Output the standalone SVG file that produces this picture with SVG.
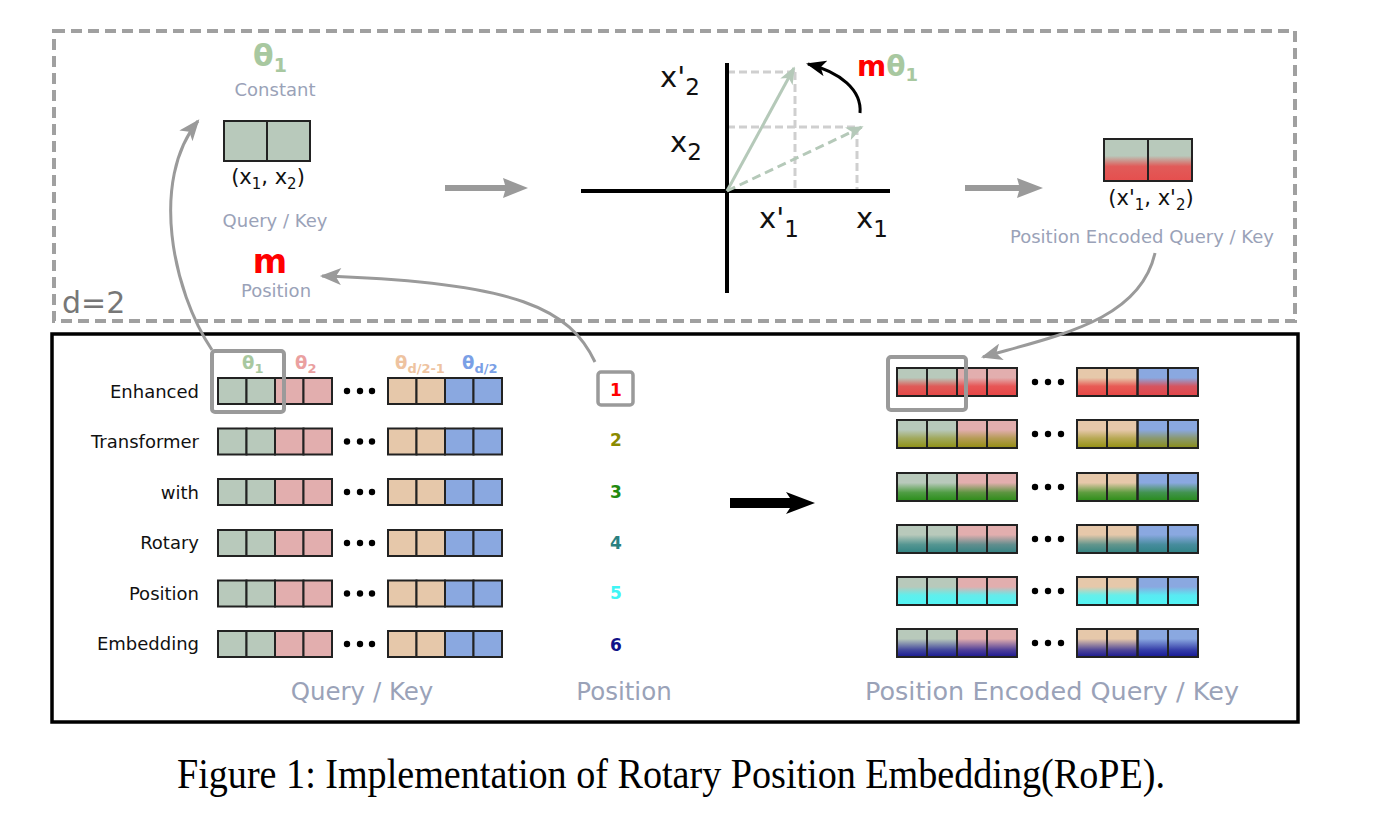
<svg xmlns="http://www.w3.org/2000/svg" width="1381" height="817" viewBox="0 0 1381 817">
<style>
text{font-family:"DejaVu Sans","Liberation Sans",sans-serif}
.lbl{font-size:18px;fill:#9aa2b8}
.big{font-size:24.5px;fill:#9aa2b8}
.row{font-size:18px;fill:#111;text-anchor:end}
.num{font-size:17px;font-weight:bold;text-anchor:middle}
.ax{font-size:29px;fill:#111}
.th{font-weight:bold}
.cg{fill:#b8c9bb}.cp{fill:#e2aeae}.ct{fill:#e6c8aa}.cb{fill:#8aa8e0}
.cell{stroke:#222;stroke-width:2}
.out{fill:none;stroke:#222;stroke-width:2}
.dot{fill:#000}
.gcurve{fill:none;stroke:#9a9a9a;stroke-width:3}
.hl{fill:none;stroke:#9a9a9a;stroke-width:4}
.dash{fill:none;stroke:#cfcfcf;stroke-width:3;stroke-dasharray:8 4}
</style>
<defs>
<marker id="ga" viewBox="0 0 20 16" refX="18" refY="8" markerWidth="22" markerHeight="17" markerUnits="userSpaceOnUse" orient="auto">
<path d="M0,0 L20,8 L0,16 L5,8 z" fill="#9a9a9a"/>
</marker>
<marker id="gr" viewBox="0 0 20 16" refX="18" refY="8" markerWidth="18" markerHeight="14" markerUnits="userSpaceOnUse" orient="auto">
<path d="M0,0 L20,8 L0,16 L5,8 z" fill="#b5c9b9"/>
</marker>
<marker id="bk" viewBox="0 0 20 16" refX="18" refY="8" markerWidth="20" markerHeight="16" markerUnits="userSpaceOnUse" orient="auto">
<path d="M0,0 L20,8 L0,16 L5,8 z" fill="#000"/>
</marker>
<linearGradient id="g0" x1="0" y1="0" x2="0" y2="1"><stop offset="0" stop-color="#e84848" stop-opacity="0"/><stop offset="0.4" stop-color="#e84848" stop-opacity="0"/><stop offset="0.65" stop-color="#e84848" stop-opacity="0.85"/><stop offset="1" stop-color="#e84848" stop-opacity="0.95"/></linearGradient>
<linearGradient id="g1" x1="0" y1="0" x2="0" y2="1"><stop offset="0" stop-color="#e84040" stop-opacity="0"/><stop offset="0.35" stop-color="#e84040" stop-opacity="0"/><stop offset="0.65" stop-color="#e84040" stop-opacity="0.8"/><stop offset="1" stop-color="#e84040" stop-opacity="0.95"/></linearGradient>
<linearGradient id="g2" x1="0" y1="0" x2="0" y2="1"><stop offset="0" stop-color="#8a8a00" stop-opacity="0"/><stop offset="0.35" stop-color="#8a8a00" stop-opacity="0"/><stop offset="0.65" stop-color="#8a8a00" stop-opacity="0.5"/><stop offset="1" stop-color="#8a8a00" stop-opacity="0.9"/></linearGradient>
<linearGradient id="g3" x1="0" y1="0" x2="0" y2="1"><stop offset="0" stop-color="#228a10" stop-opacity="0"/><stop offset="0.35" stop-color="#228a10" stop-opacity="0"/><stop offset="0.7" stop-color="#228a10" stop-opacity="0.7"/><stop offset="1" stop-color="#228a10" stop-opacity="0.95"/></linearGradient>
<linearGradient id="g4" x1="0" y1="0" x2="0" y2="1"><stop offset="0" stop-color="#2a8080" stop-opacity="0"/><stop offset="0.35" stop-color="#2a8080" stop-opacity="0"/><stop offset="0.7" stop-color="#2a8080" stop-opacity="0.7"/><stop offset="1" stop-color="#2a8080" stop-opacity="0.95"/></linearGradient>
<linearGradient id="g5" x1="0" y1="0" x2="0" y2="1"><stop offset="0" stop-color="#50f5f5" stop-opacity="0"/><stop offset="0.35" stop-color="#50f5f5" stop-opacity="0"/><stop offset="0.65" stop-color="#50f5f5" stop-opacity="0.85"/><stop offset="1" stop-color="#50f5f5" stop-opacity="1"/></linearGradient>
<linearGradient id="g6" x1="0" y1="0" x2="0" y2="1"><stop offset="0" stop-color="#101090" stop-opacity="0"/><stop offset="0.35" stop-color="#101090" stop-opacity="0"/><stop offset="0.75" stop-color="#101090" stop-opacity="0.7"/><stop offset="1" stop-color="#101090" stop-opacity="0.95"/></linearGradient>
<g id="qk">
<rect class="cell cg" x="0" y="0" width="28.5" height="26"/>
<rect class="cell cg" x="28.5" y="0" width="28.5" height="26"/>
<rect class="cell cp" x="57" y="0" width="28.5" height="26"/>
<rect class="cell cp" x="85.5" y="0" width="28.5" height="26"/>
<circle class="dot" cx="129" cy="13" r="3.2"/><circle class="dot" cx="142" cy="13" r="3.2"/><circle class="dot" cx="154" cy="13" r="3.2"/>
<rect class="cell ct" x="170" y="0" width="28.5" height="26"/>
<rect class="cell ct" x="198.5" y="0" width="28.5" height="26"/>
<rect class="cell cb" x="227" y="0" width="28.5" height="26"/>
<rect class="cell cb" x="255.5" y="0" width="28.5" height="26"/>
</g>
<g id="pe">
<rect class="cg" x="0" y="0" width="30" height="28"/>
<rect class="cg" x="30" y="0" width="30" height="28"/>
<rect class="cp" x="60" y="0" width="30" height="28"/>
<rect class="cp" x="90" y="0" width="30" height="28"/>
<rect class="ct" x="180" y="0" width="30" height="28"/>
<rect class="ct" x="210" y="0" width="30.5" height="28"/>
<rect class="cb" x="240.5" y="0" width="30.5" height="28"/>
<rect class="cb" x="271" y="0" width="30" height="28"/>
</g>
<g id="peo">
<rect class="out" x="0" y="0" width="30" height="28"/>
<rect class="out" x="30" y="0" width="30" height="28"/>
<rect class="out" x="60" y="0" width="30" height="28"/>
<rect class="out" x="90" y="0" width="30" height="28"/>
<circle class="dot" cx="138" cy="14" r="3.2"/><circle class="dot" cx="151" cy="14" r="3.2"/><circle class="dot" cx="164" cy="14" r="3.2"/>
<rect class="out" x="180" y="0" width="30" height="28"/>
<rect class="out" x="210" y="0" width="30.5" height="28"/>
<rect class="out" x="240.5" y="0" width="30.5" height="28"/>
<rect class="out" x="271" y="0" width="30" height="28"/>
</g>
</defs>
<rect width="1381" height="817" fill="#fff"/>

<g id="panel-top">
<rect x="54" y="31" width="1241" height="290" fill="none" stroke="#a0a0a0" stroke-width="4" stroke-dasharray="11 6"/>
<text x="62" y="313" font-size="30" fill="#777">d=2</text>
</g>

<g id="panel-bottom">
<rect x="52" y="334" width="1246" height="388" fill="none" stroke="#000" stroke-width="3.5"/>
</g>

<g id="theta-constant">
<text x="253" y="66" font-size="30" class="th" fill="#a8c8a0">θ<tspan font-size="19" dy="6">1</tspan></text>
<text x="275" y="96" class="lbl" text-anchor="middle">Constant</text>
</g>

<g id="query-key-pair">
<rect class="cell cg" x="224" y="121" width="43" height="40" stroke-width="2.5"/>
<rect class="cell cg" x="267" y="121" width="43" height="40" stroke-width="2.5"/>
<text x="268" y="184" font-size="21" fill="#111" text-anchor="middle">(x<tspan font-size="15" dy="5">1</tspan><tspan dy="-5">, x</tspan><tspan font-size="15" dy="5">2</tspan><tspan dy="-5">)</tspan></text>
<text x="275" y="227" class="lbl" text-anchor="middle">Query / Key</text>
</g>

<g id="position-m">
<text x="270" y="273" font-size="33" font-weight="bold" fill="#f00" text-anchor="middle">m</text>
<text x="276" y="297" class="lbl" text-anchor="middle">Position</text>
</g>

<g id="rotation-plot">
<line class="dash" x1="727" y1="72" x2="795" y2="72"/>
<line class="dash" x1="795" y1="72" x2="795" y2="191"/>
<line class="dash" x1="727" y1="127" x2="857" y2="127"/>
<line class="dash" x1="857" y1="127" x2="857" y2="191"/>
<line x1="581" y1="191" x2="890" y2="191" stroke="#000" stroke-width="4"/>
<line x1="727" y1="63" x2="727" y2="293" stroke="#000" stroke-width="4"/>
<line x1="727" y1="191" x2="794" y2="68" stroke="#b5c9b9" stroke-width="3" marker-end="url(#gr)"/>
<line x1="727" y1="191" x2="862" y2="127" stroke="#b5c9b9" stroke-width="3" stroke-dasharray="9 5" marker-end="url(#gr)"/>
<path d="M860,113 C862,90 840,72 808,64" fill="none" stroke="#000" stroke-width="3" marker-end="url(#bk)"/>
<text x="660" y="87" class="ax">x'<tspan font-size="23" dy="8">2</tspan></text>
<text x="670" y="152" class="ax">x<tspan font-size="23" dy="8">2</tspan></text>
<text x="759" y="228" class="ax">x'<tspan font-size="23" dy="9">1</tspan></text>
<text x="856" y="228" class="ax">x<tspan font-size="23" dy="9">1</tspan></text>
<text x="857" y="76" font-size="28" font-weight="bold" fill="#f00">m<tspan fill="#a8c8a0">θ</tspan><tspan fill="#a8c8a0" font-size="18" dy="5">1</tspan></text>
</g>

<g id="encoded-pair">
<rect class="cg" x="1104" y="139" width="44" height="42"/>
<rect class="cg" x="1148" y="139" width="44" height="42"/>
<rect x="1104" y="139" width="88" height="42" fill="url(#g0)"/>
<rect class="out" x="1104" y="139" width="44" height="42" stroke-width="2.5"/>
<rect class="out" x="1148" y="139" width="44" height="42" stroke-width="2.5"/>
<text x="1151" y="205" font-size="21" fill="#111" text-anchor="middle">(x'<tspan font-size="15" dy="5">1</tspan><tspan dy="-5">, x'</tspan><tspan font-size="15" dy="5">2</tspan><tspan dy="-5">)</tspan></text>
<text x="1142" y="243" class="lbl" text-anchor="middle">Position Encoded Query / Key</text>
</g>

<g id="row-labels">
<text class="row" x="199" y="398">Enhanced</text>
<text class="row" x="199" y="448">Transformer</text>
<text class="row" x="199" y="499">with</text>
<text class="row" x="199" y="549">Rotary</text>
<text class="row" x="199" y="600">Position</text>
<text class="row" x="199" y="650">Embedding</text>
</g>

<g id="theta-labels" class="th">
<text x="242" y="369" font-size="18" fill="#a8c8a0">θ<tspan font-size="13" dy="4">1</tspan></text>
<text x="295" y="369" font-size="18" fill="#eaa0a0">θ<tspan font-size="13" dy="4">2</tspan></text>
<text x="395" y="369" font-size="18" fill="#eec3a0">θ<tspan font-size="13" dy="4">d/2-1</tspan></text>
<text x="462" y="369" font-size="18" fill="#7aa0e6">θ<tspan font-size="13" dy="4">d/2</tspan></text>
</g>

<g id="query-key-rows">
<use href="#qk" x="218" y="378"/>
<use href="#qk" x="218" y="428.5"/>
<use href="#qk" x="218" y="479"/>
<use href="#qk" x="218" y="530"/>
<use href="#qk" x="218" y="580.5"/>
<use href="#qk" x="218" y="631"/>
<rect class="hl" x="212" y="351" width="72" height="61" rx="3"/>
<text x="362" y="700" class="big" text-anchor="middle">Query / Key</text>
</g>

<g id="positions">
<rect x="598" y="372" width="35" height="33" rx="3" fill="none" stroke="#9a9a9a" stroke-width="3.5"/>
<text class="num" x="616" y="396" fill="#f00">1</text>
<text class="num" x="616" y="446" fill="#8a8a00">2</text>
<text class="num" x="616" y="498" fill="#228a10">3</text>
<text class="num" x="616" y="549" fill="#2a8080">4</text>
<text class="num" x="616" y="599" fill="#40f5f5">5</text>
<text class="num" x="616" y="651" fill="#101088">6</text>
<text x="624" y="700" class="big" text-anchor="middle">Position</text>
</g>

<g id="encoded-rows">
<use href="#pe" x="897" y="368"/><rect x="897" y="368" width="120" height="28" fill="url(#g1)"/><rect x="1077" y="368" width="121" height="28" fill="url(#g1)"/><use href="#peo" x="897" y="368"/>
<use href="#pe" x="897" y="420"/><rect x="897" y="420" width="120" height="28" fill="url(#g2)"/><rect x="1077" y="420" width="121" height="28" fill="url(#g2)"/><use href="#peo" x="897" y="420"/>
<use href="#pe" x="897" y="473"/><rect x="897" y="473" width="120" height="28" fill="url(#g3)"/><rect x="1077" y="473" width="121" height="28" fill="url(#g3)"/><use href="#peo" x="897" y="473"/>
<use href="#pe" x="897" y="525"/><rect x="897" y="525" width="120" height="28" fill="url(#g4)"/><rect x="1077" y="525" width="121" height="28" fill="url(#g4)"/><use href="#peo" x="897" y="525"/>
<use href="#pe" x="897" y="577"/><rect x="897" y="577" width="120" height="28" fill="url(#g5)"/><rect x="1077" y="577" width="121" height="28" fill="url(#g5)"/><use href="#peo" x="897" y="577"/>
<use href="#pe" x="897" y="629"/><rect x="897" y="629" width="120" height="28" fill="url(#g6)"/><rect x="1077" y="629" width="121" height="28" fill="url(#g6)"/><use href="#peo" x="897" y="629"/>
<rect class="hl" x="888" y="357" width="78" height="53" rx="3"/>
<text x="1052" y="700" font-size="25.5" fill="#9aa2b8" text-anchor="middle">Position Encoded Query / Key</text>
</g>

<g id="connectors">
<path class="gcurve" d="M212,350 C172,290 150,180 198,121" marker-end="url(#ga)"/>
<path class="gcurve" d="M595,362 C570,310 520,282 322,276" marker-end="url(#ga)"/>
<path class="gcurve" d="M1155,253 C1140,320 1060,335 983,357" marker-end="url(#ga)"/>
<polygon points="445,185 505,185 503,178 528,188 503,198 505,191 445,191" fill="#9a9a9a"/>
<polygon points="965,185 1019,185 1017,178 1043,188 1017,198 1019,191 965,191" fill="#9a9a9a"/>
<polygon points="730,498 790,498 786,492 815,503 786,514 790,508 730,508" fill="#000"/>
</g>

<g id="caption">
<text x="177" y="788" font-size="42" fill="#000" textLength="988" lengthAdjust="spacingAndGlyphs" style="font-family:'Liberation Serif',serif">Figure 1: Implementation of Rotary Position Embedding(RoPE).</text>
</g>
</svg>
